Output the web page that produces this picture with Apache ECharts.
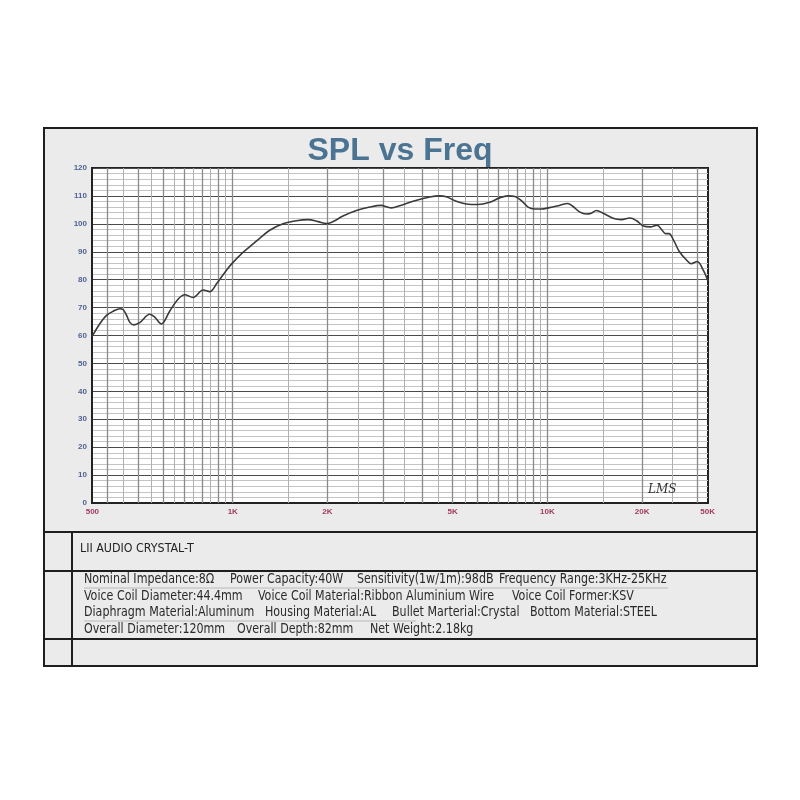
<!DOCTYPE html>
<html><head><meta charset="utf-8">
<script src="https://cdn.jsdelivr.net/npm/echarts@6/dist/echarts.min.js"></script>
<style>html,body{margin:0;padding:0;background:#fff}#c{width:800px;height:800px}</style>
</head><body><div id="c"></div>
<script>
// ---- data ----
const freqHz = [357,378,397,417,438,448,459,471,485,506,545,565,593,631,670,704,748,805,845,888,955,1002,1078,1160,1218,
  1311,1445,1593,1735,1866,1985,2083,2241,2472,2726,2970,3081,3198,3394,3743,4227,4543,4771,5133,5527,6000,6560,7050,7500,
  7890,8270,8680,9100,9550,10150,10920,11600,12040,12650,13290,13790,14320,15030,16170,17190,18290,19220,20200,21240,
  22320,23160,23740,24340,25270,26230,27590,28630,29950,31260,32400];
const splDb = [59.6,64.2,67.2,68.7,69.6,69.3,67.4,64.7,63.8,64.6,67.6,66.6,64.1,68.8,73.0,74.6,73.6,76.3,75.7,78.5,83.4,86.2,89.8,92.8,94.8,
  97.7,100.0,101.1,101.5,100.8,100.1,100.8,102.8,104.8,106.0,106.6,106.1,105.7,106.5,108.1,109.6,110.0,109.7,108.1,107.1,106.9,107.7,109.3,110.0,
  109.8,108.3,106.0,105.3,105.3,105.8,106.6,107.3,106.3,104.3,103.5,103.8,104.8,103.8,102.0,101.5,102.1,101.1,99.2,98.9,
  99.5,97.7,96.5,96.5,93.8,90.2,87.2,85.7,86.5,83.5,79.5];
const xMin = 357, xMax = 32400;
const xLabelValues = [358, 1000, 2000, 5000, 10000, 20000, 32300];
const xLabelTexts = ['500', '1K', '2K', '5K', '10K', '20K', '50K'];
const gridMajorHz = [400,500,600,700,800,900,1000,2000,3000,4000,5000,6000,7000,8000,9000,10000,20000,30000];
const gridMinorHz = [450,550,650,750,850,950,1500,2500,3500,4500,5500,6500,7500,8500,9500,15000,25000];
const yMin = 0, yMax = 120, yStep = 10;
const titleText = 'SPL vs Freq';
const modelName = 'LII AUDIO CRYSTAL-T';
const specRow1 = ['Nominal Impedance:8Ω', 'Power Capacity:40W', 'Sensitivity(1w/1m):98dB', 'Frequency Range:3KHz-25KHz'];
const specRow2 = ['Voice Coil Diameter:44.4mm', 'Voice Coil Material:Ribbon Aluminium Wire', 'Voice Coil Former:KSV'];
const specRow3 = ['Diaphragm Material:Aluminum', 'Housing Material:AL', 'Bullet Marterial:Crystal', 'Bottom Material:STEEL'];
const specRow4 = ['Overall Diameter:120mm', 'Overall Depth:82mm', 'Net Weight:2.18kg'];
const logoText = 'LMS';

// ---- layout ----
const G = {left: 92, right: 92, top: 168, bottom: 297};
const plotH = 800 - G.top - G.bottom;
const specX = [[84, 230, 357, 499], [84, 258, 512], [84, 265, 392, 530], [84, 237, 370]];
const specY = [579, 596, 612, 629];
const specRows = [specRow1, specRow2, specRow3, specRow4];
const specFont = '"Liberation Sans Narrow", "Arial Narrow", "DejaVu Sans Condensed", sans-serif';

const points = freqHz.map((f, i) => [f, splDb[i]]);

function gridAxis(values, color, width) {
  return {
    type: 'log', logBase: 10, min: xMin, max: xMax, gridIndex: 0, position: 'bottom',
    axisLine: {show: false}, axisLabel: {show: false}, splitLine: {show: false},
    axisTick: {show: true, inside: true, length: plotH, customValues: values,
      lineStyle: {color: color, width: width}}
  };
}

const graphics = [
  {type: 'rect', z: -10, shape: {x: 44, y: 128, width: 713, height: 538},
    style: {fill: '#ebebeb', stroke: '#1e1e1e', lineWidth: 2}},
  {type: 'line', z: -9, shape: {x1: 44, y1: 532, x2: 757, y2: 532}, style: {stroke: '#1e1e1e', lineWidth: 2}},
  {type: 'line', z: -9, shape: {x1: 44, y1: 571, x2: 757, y2: 571}, style: {stroke: '#1e1e1e', lineWidth: 2}},
  {type: 'line', z: -9, shape: {x1: 44, y1: 639, x2: 757, y2: 639}, style: {stroke: '#1e1e1e', lineWidth: 2}},
  {type: 'line', z: -9, shape: {x1: 72, y1: 532, x2: 72, y2: 666}, style: {stroke: '#1e1e1e', lineWidth: 2}},
  {type: 'line', z: -9, shape: {x1: 84, y1: 588, x2: 668, y2: 588}, style: {stroke: '#b8b8b8', lineWidth: 1}},
  {type: 'line', z: -9, shape: {x1: 84, y1: 621, x2: 416, y2: 621}, style: {stroke: '#b8b8b8', lineWidth: 1}},
  {type: 'text', z: 5, x: 80, y: 549, scaleX: 0.95, style: {text: modelName, x: 0, y: 0, fill: '#222',
    font: '13px ' + specFont, textVerticalAlign: 'middle', verticalAlign: 'middle'}},
  {type: 'text', z: 5, style: {text: logoText, x: 648, y: 490, fill: '#333',
    font: 'italic 12px "DejaVu Serif", serif', textVerticalAlign: 'middle', verticalAlign: 'middle'}}
];
specRows.forEach((row, r) => {
  row.forEach((t, k) => {
    graphics.push({type: 'text', z: 5, x: specX[r][k], y: specY[r], scaleX: 0.88,
      style: {text: t, x: 0, y: 0, fill: '#2a2a2a',
      font: '14px ' + specFont, textVerticalAlign: 'middle', verticalAlign: 'middle'}});
  });
});

const chart = echarts.init(document.getElementById('c'), null, {renderer: 'canvas'});
chart.setOption({
  backgroundColor: '#ffffff',
  animation: false,
  title: {text: titleText, left: 'center', top: 130,
    textStyle: {color: '#4b7392', fontSize: 32, fontWeight: 'bold', fontFamily: '"Liberation Sans", Arial, sans-serif'}},
  graphic: graphics,
  grid: {left: G.left, right: G.right, top: G.top, bottom: G.bottom, show: true,
    backgroundColor: '#ffffff', borderColor: '#222', borderWidth: 2},
  xAxis: [
    {type: 'log', logBase: 10, min: xMin, max: xMax, position: 'bottom',
      axisLine: {show: true, lineStyle: {color: '#222', width: 2}},
      axisTick: {show: false}, splitLine: {show: false},
      axisLabel: {show: true, customValues: xLabelValues, margin: 5,
        color: '#a23a62', fontSize: 8, fontWeight: 'bold', fontFamily: '"Liberation Sans", Arial, sans-serif',
        formatter: function (v) {
          let best = 0, d = Infinity;
          xLabelValues.forEach((x, i) => { const e = Math.abs(Math.log(x) - Math.log(v)); if (e < d) { d = e; best = i; } });
          return xLabelTexts[best];
        }}},
    gridAxis(gridMinorHz, '#b0b0b0', 1),
    gridAxis(gridMajorHz, '#8a8a8a', 1.3)
  ],
  yAxis: {type: 'value', min: yMin, max: yMax, interval: yStep,
    axisLine: {show: true, lineStyle: {color: '#222', width: 2}},
    axisTick: {show: false},
    axisLabel: {color: '#4f6392', fontSize: 8, fontWeight: 'bold', margin: 5,
      fontFamily: '"Liberation Sans", Arial, sans-serif'},
    splitLine: {show: true, lineStyle: {color: '#4a4a4a', width: 1.2}},
    minorTick: {show: false, splitNumber: 5},
    minorSplitLine: {show: true, lineStyle: {color: '#c4c4c4', width: 1}}},
  series: [{
    type: 'line', xAxisIndex: 0, yAxisIndex: 0, data: points, smooth: 0.35,
    showSymbol: false, symbol: 'none', z: 5,
    lineStyle: {color: '#3a3a3a', width: 1.6}
  }]
});
</script>
</body></html>
